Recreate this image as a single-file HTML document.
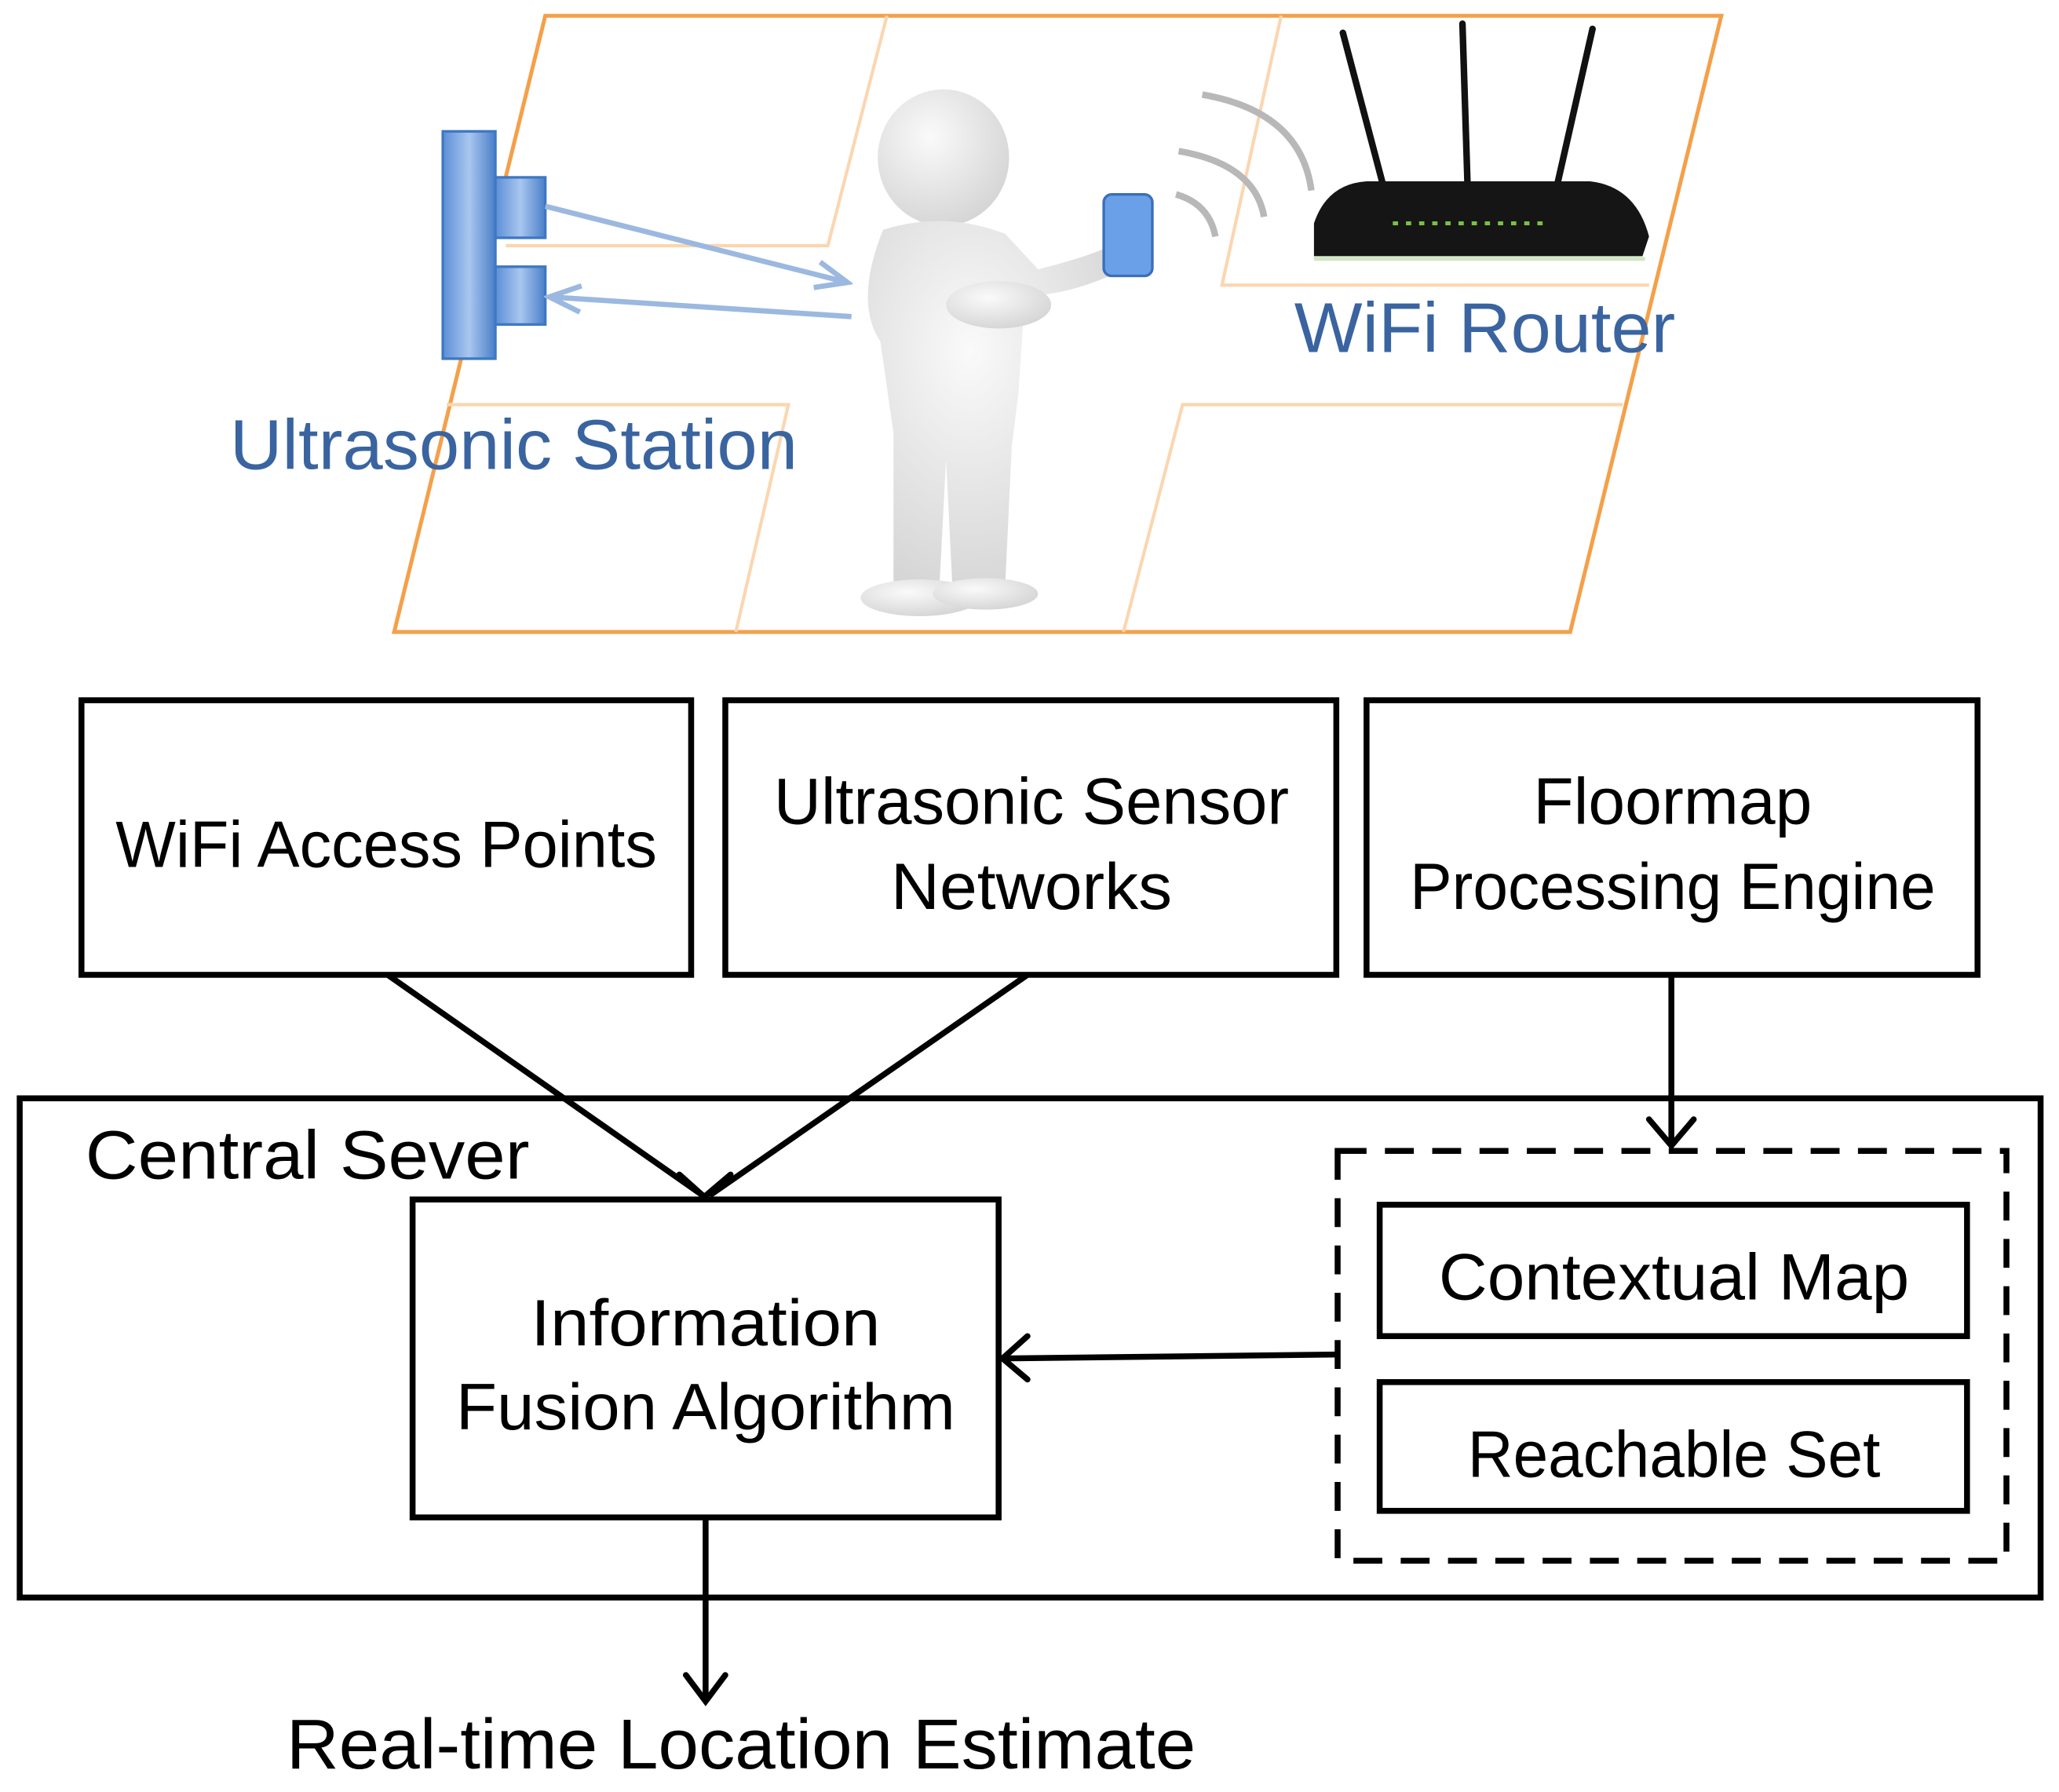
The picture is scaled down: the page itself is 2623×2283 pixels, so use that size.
<!DOCTYPE html>
<html><head><meta charset="utf-8"><style>
html,body{margin:0;padding:0;background:#fff;}
svg{display:block;}
text{font-family:"Liberation Sans",sans-serif;}
</style></head><body>
<svg width="2623" height="2283" viewBox="0 0 1567 1364" preserveAspectRatio="none" xmlns="http://www.w3.org/2000/svg">
<defs>
<marker id="ahb" markerWidth="30" markerHeight="30" refX="26" refY="12" orient="auto" markerUnits="userSpaceOnUse">
<path d="M2,2 L26,12 L2,22" fill="none" stroke="#9bb8e0" stroke-width="4"/></marker>
<linearGradient id="bl" x1="0" x2="1"><stop offset="0" stop-color="#5b8fd6"/><stop offset="0.5" stop-color="#a9c6ef"/><stop offset="1" stop-color="#4a7fc8"/></linearGradient>
<radialGradient id="pg" cx="0.4" cy="0.35" r="0.7"><stop offset="0" stop-color="#fafafa"/><stop offset="1" stop-color="#d4d4d4"/></radialGradient>
</defs>
<polygon points="415,12 1310,12 1195,481 300,481" fill="#fff" stroke="#f4a04a" stroke-width="3"/>
<g stroke="#fbd6b0" stroke-width="2.5" fill="none">
<polyline points="385,187 630,187 675,12"/>
<polyline points="340,308 600,308 560,481"/>
<polyline points="975,12 930,217 1255,217"/>
<polyline points="1235,308 900,308 855,481"/>
</g>
<rect x="337" y="100" width="40" height="173" fill="url(#bl)" stroke="#3e78c4" stroke-width="2"/>
<rect x="377" y="135" width="38" height="46" fill="url(#bl)" stroke="#3e78c4" stroke-width="2"/>
<rect x="377" y="203" width="38" height="44" fill="url(#bl)" stroke="#3e78c4" stroke-width="2"/>
<line x1="415" y1="157" x2="645" y2="215" stroke="#9bb8e0" stroke-width="4" marker-end="url(#ahb)"/>
<line x1="648" y1="241" x2="418" y2="226" stroke="#9bb8e0" stroke-width="4" marker-end="url(#ahb)"/>
<g fill="url(#pg)">
<ellipse cx="718" cy="120" rx="50" ry="52"/>
<path d="M672,175 Q718,160 765,178 L790,205 Q830,195 850,185 L855,205 Q815,225 780,225 L775,300 L770,340 L765,445 L725,450 L720,350 L715,445 L680,450 L680,330 L670,260 Q650,230 672,175 Z"/>
<ellipse cx="760" cy="232" rx="40" ry="18"/>
<ellipse cx="700" cy="455" rx="45" ry="14"/>
<ellipse cx="750" cy="452" rx="40" ry="12"/>
</g>
<rect x="840" y="148" width="37" height="62" rx="6" fill="#6aa0e8" stroke="#3b6fb8" stroke-width="2"/>
<g fill="none" stroke="#b8b8b8" stroke-width="5">
<path d="M895,148 Q920,155 925,180"/>
<path d="M897,115 Q955,125 962,165"/>
<path d="M915,72 Q990,85 998,145"/>
</g>
<g stroke="#111" stroke-width="5" stroke-linecap="round">
<line x1="1022" y1="25" x2="1055" y2="150"/>
<line x1="1113" y1="18" x2="1117" y2="145"/>
<line x1="1212" y1="22" x2="1183" y2="150"/>
</g>
<path d="M1000,170 Q1010,140 1040,138 L1210,138 Q1245,142 1255,180 L1250,195 L1000,195 Z" fill="#151515"/>
<line x1="1060" y1="170" x2="1180" y2="170" stroke="#7ac142" stroke-width="3" stroke-dasharray="4,6"/>
<line x1="1000" y1="197" x2="1252" y2="197" stroke="#cfe8c0" stroke-width="3"/>
<text x="985" y="268" font-size="54" fill="#3a64a0" textLength="290" lengthAdjust="spacingAndGlyphs">WiFi Router</text>
<text x="175" y="357" font-size="54" fill="#3a64a0" textLength="432" lengthAdjust="spacingAndGlyphs">Ultrasonic Station</text>
<g fill="#fff" stroke="#000" stroke-width="4.5">
<rect x="62" y="533" width="464" height="209"/>
<rect x="552" y="533" width="465" height="209"/>
<rect x="1040" y="533" width="465" height="209"/>
<rect x="15" y="836" width="1538" height="380" fill="none"/>
<rect x="314" y="913" width="446" height="242"/>
<rect x="1050" y="917" width="447" height="100"/>
<rect x="1050" y="1052" width="447" height="98"/>
</g>
<rect x="1018" y="876" width="509" height="312" fill="none" stroke="#000" stroke-width="4.5" stroke-dasharray="22,14"/>
<g font-size="50" fill="#000" text-anchor="middle" lengthAdjust="spacingAndGlyphs">
<text x="294" y="660" textLength="412" lengthAdjust="spacingAndGlyphs">WiFi Access Points</text>
<text x="785" y="627" textLength="392" lengthAdjust="spacingAndGlyphs">Ultrasonic Sensor</text>
<text x="785" y="692" textLength="214" lengthAdjust="spacingAndGlyphs">Networks</text>
<text x="1273" y="627" textLength="212" lengthAdjust="spacingAndGlyphs">Floormap</text>
<text x="1273" y="692" textLength="400" lengthAdjust="spacingAndGlyphs">Processing Engine</text>
<text x="537" y="1024" textLength="266" lengthAdjust="spacingAndGlyphs">Information</text>
<text x="537" y="1088" textLength="380" lengthAdjust="spacingAndGlyphs">Fusion Algorithm</text>
<text x="1274" y="989" textLength="358" lengthAdjust="spacingAndGlyphs">Contextual Map</text>
<text x="1274" y="1124" textLength="314" lengthAdjust="spacingAndGlyphs">Reachable Set</text>
</g>
<text x="65" y="897" font-size="52" textLength="338" lengthAdjust="spacingAndGlyphs">Central Sever</text>
<text x="218" y="1346" font-size="54" textLength="692" lengthAdjust="spacingAndGlyphs">Real-time Location Estimate</text>
<g stroke="#000" stroke-width="4.5" fill="none">
<line x1="295" y1="742" x2="535" y2="910"/>
<line x1="782" y1="742" x2="540" y2="910"/>
<line x1="1272" y1="742" x2="1272" y2="870"/>
<line x1="1018" y1="1031" x2="765" y2="1034"/>
<line x1="537" y1="1155" x2="537" y2="1293"/>
</g>
<g stroke="#000" stroke-width="4.5" fill="none" stroke-linecap="round">
<polyline points="517,894 536,911 556,894"/>
<polyline points="1255,852 1272,872 1289,852"/>
<polyline points="782,1017 763,1034 782,1050"/>
<polyline points="522,1275 537,1295 552,1275"/>
</g>
</svg>
</body></html>
